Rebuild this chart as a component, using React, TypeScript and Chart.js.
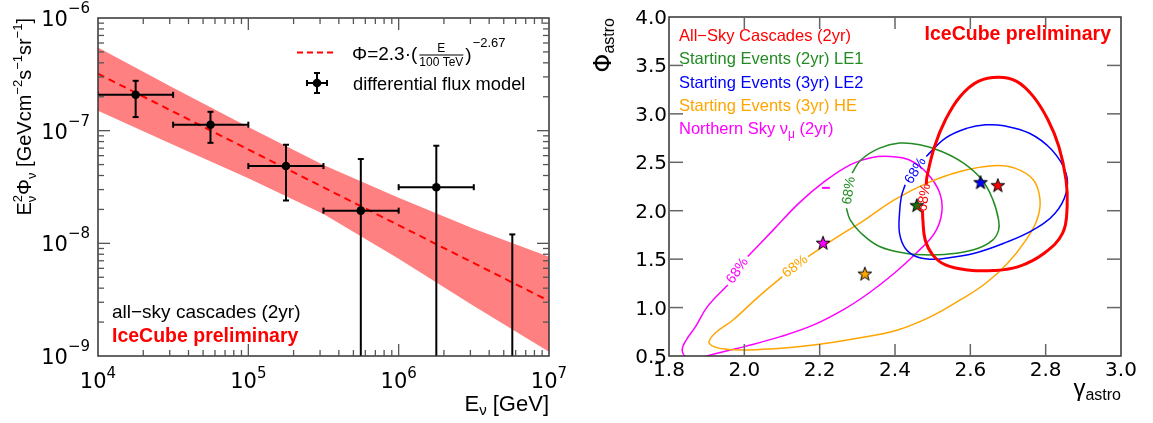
import React, { useEffect, useRef } from "react";
import { Chart, registerables } from "chart.js";

Chart.register(...registerables);

const TEXT_FONT = '"Liberation Sans", Arial, sans-serif';
const NUM_FONT = '"DejaVu Sans", sans-serif';

// ---------------- Left panel data ----------------
const binCenterE = [1.78e4, 5.6e4, 1.78e5, 5.6e5, 1.78e6];
const binFlux = [2.08e-7, 1.13e-7, 4.85e-8, 1.95e-8, 3.15e-8];
const binLowE = [1e4, 3.16e4, 1e5, 3.16e5, 1e6];
const binHighE = [3.16e4, 1e5, 3.16e5, 1e6, 3.16e6];
const fluxErrLow: (number | null)[] = [1.32e-7, 7.8e-8, 2.4e-8, null, null];
const fluxErrHigh = [2.77e-7, 1.47e-7, 7.5e-8, 5.6e-8, 7.35e-8];
const limitE = [5.7e6];
const limitFlux = [1.2e-8];

const bandE = [1e4, 3.16e4, 1e5, 3.16e5, 1e6, 3.16e6, 1e7];
const bandUpper = [5.48e-7, 2.4e-7, 1.08e-7, 4.97e-8, 2.54e-8, 1.35e-8, 7.6e-9];
const bandLower = [1.5e-7, 7.5e-8, 3.78e-8, 1.82e-8, 7.3e-9, 2.78e-9, 1.09e-9];
const fitE = [1e4, 1e7];
const fitFlux = [3.2e-7, 3.08e-9];

const xDecades = [4, 5, 6, 7];
const yDecades = [-9, -8, -7, -6];

// ---------------- Right panel data ----------------
const cascGamma = [2.473, 2.474, 2.48, 2.5, 2.534, 2.592, 2.66, 2.728, 2.796, 2.845, 2.857, 2.854, 2.835, 2.806, 2.767, 2.723, 2.675, 2.621, 2.573, 2.534, 2.505, 2.485, 2.483];
const cascPhi = [2.0, 1.906, 1.7, 1.544, 1.44, 1.389, 1.382, 1.423, 1.561, 1.768, 2.043, 2.319, 2.663, 2.939, 3.18, 3.335, 3.377, 3.335, 3.18, 2.939, 2.663, 2.353, 2.27];

const le2Gamma = [2.483, 2.534, 2.592, 2.641, 2.689, 2.757, 2.816, 2.854, 2.854, 2.825, 2.767, 2.689, 2.611, 2.534, 2.495, 2.456, 2.427, 2.412, 2.412, 2.417, 2.427];
const le2Phi = [2.56, 2.75, 2.853, 2.887, 2.877, 2.8, 2.629, 2.388, 2.181, 1.975, 1.802, 1.664, 1.561, 1.509, 1.499, 1.527, 1.613, 1.768, 1.975, 2.147, 2.267];

const le1Gamma = [2.286, 2.31, 2.359, 2.412, 2.466, 2.524, 2.582, 2.631, 2.66, 2.675, 2.675, 2.66, 2.621, 2.563, 2.495, 2.427, 2.359, 2.31, 2.281, 2.271];
const le1Phi = [2.388, 2.526, 2.646, 2.698, 2.681, 2.612, 2.491, 2.319, 2.112, 1.906, 1.8, 1.699, 1.613, 1.561, 1.544, 1.561, 1.63, 1.768, 1.906, 2.026];

const heGamma = [2.169, 2.242, 2.32, 2.398, 2.485, 2.573, 2.66, 2.718, 2.767, 2.785, 2.777, 2.748, 2.699, 2.641, 2.573, 2.495, 2.407, 2.3, 2.184, 2.048, 1.951, 1.907, 1.922, 1.97, 2.038, 2.101];
const hePhi = [1.527, 1.716, 1.906, 2.112, 2.285, 2.405, 2.464, 2.44, 2.319, 2.112, 1.906, 1.699, 1.458, 1.251, 1.079, 0.907, 0.769, 0.683, 0.614, 0.569, 0.569, 0.631, 0.734, 0.872, 1.113, 1.32];

const numuGamma = [2.009, 2.077, 2.145, 2.213, 2.281, 2.339, 2.388, 2.437, 2.485, 2.519, 2.524, 2.505, 2.456, 2.398, 2.33, 2.262, 2.184, 2.096, 2.0, 1.95, 1.9, 1.87, 1.845, 1.835, 1.845, 1.87, 1.902, 1.956];
const numuPhi = [1.527, 1.802, 2.078, 2.302, 2.474, 2.55, 2.56, 2.526, 2.388, 2.181, 1.975, 1.768, 1.561, 1.354, 1.148, 0.976, 0.821, 0.7, 0.597, 0.55, 0.5, 0.47, 0.49, 0.56, 0.66, 0.8, 1.01, 1.234];
const numuDashGamma = [2.206, 2.227];
const numuDashPhi = [2.236, 2.236];

const bestGamma = [2.209, 2.32, 2.458, 2.627, 2.673];
const bestPhi = [1.669, 1.35, 2.057, 2.294, 2.263];

const labelGamma = [2.478, 2.455, 2.278, 2.135, 1.982];
const labelPhi = [2.135, 2.413, 2.207, 1.423, 1.38];
const labelAngle = [-82, -58, -81, -38, -55];

const legendNames = [
  "All\u2212Sky Cascades (2yr)",
  "Starting Events (2yr) LE1",
  "Starting Events (3yr) LE2",
  "Starting Events (3yr) HE",
];

const xTicksR = [1.8, 2.0, 2.2, 2.4, 2.6, 2.8, 3.0];
const yTicksR = [0.5, 1.0, 1.5, 2.0, 2.5, 3.0, 3.5, 4.0];

const RED = "#ff0000";
const GREEN = "#228b22";
const BLUE = "#0000ff";
const ORANGE = "#ffa500";
const MAGENTA = "#ff00ff";

// ---------------- text helpers ----------------
type Seg = {
  t: string;
  size: number;
  dy?: number;
  bold?: boolean;
  family?: string;
  color?: string;
  under?: { t: string; size: number; dy: number };
};

function segFont(s: { size: number; bold?: boolean; family?: string }) {
  return `${s.bold ? "bold " : ""}${s.size}px ${s.family ?? TEXT_FONT}`;
}

function segWidth(ctx: CanvasRenderingContext2D, s: Seg) {
  ctx.font = segFont(s);
  let w = ctx.measureText(s.t).width;
  if (s.under) {
    ctx.font = segFont({ size: s.under.size, family: s.family });
    w = Math.max(w, ctx.measureText(s.under.t).width);
  }
  return w;
}

function drawRich(
  ctx: CanvasRenderingContext2D,
  segs: Seg[],
  x: number,
  y: number,
  align: "left" | "center" | "right",
  color: string
) {
  const widths = segs.map((s) => segWidth(ctx, s));
  const total = widths.reduce((a, b) => a + b, 0);
  let cx = align === "left" ? x : align === "center" ? x - total / 2 : x - total;
  ctx.textAlign = "left";
  ctx.textBaseline = "alphabetic";
  segs.forEach((s, i) => {
    ctx.fillStyle = s.color ?? color;
    ctx.font = segFont(s);
    ctx.fillText(s.t, cx, y + (s.dy ?? 0));
    if (s.under) {
      ctx.font = segFont({ size: s.under.size, family: s.family });
      ctx.fillText(s.under.t, cx, y + s.under.dy);
    }
    cx += widths[i];
  });
  return total;
}

function line(ctx: CanvasRenderingContext2D, x0: number, y0: number, x1: number, y1: number) {
  ctx.beginPath();
  ctx.moveTo(x0, y0);
  ctx.lineTo(x1, y1);
  ctx.stroke();
}

function errorCross(ctx: CanvasRenderingContext2D, px: number, py: number, x0: number, x1: number, yTop: number, yBot: number | null, bottomEdge: number) {
  const c = 3;
  line(ctx, x0, py, x1, py);
  line(ctx, x0, py - c, x0, py + c);
  line(ctx, x1, py - c, x1, py + c);
  const yb = yBot === null ? bottomEdge + 5 : yBot;
  line(ctx, px, yTop, px, yb);
  line(ctx, px - c, yTop, px + c, yTop);
  if (yBot !== null) line(ctx, px - c, yBot, px + c, yBot);
}

// ---------------- left plugin ----------------
const leftPlugin = {
  id: "leftDecor",
  afterDatasetsDraw(chart: any) {
    const ctx: CanvasRenderingContext2D = chart.ctx;
    const xs = chart.scales.x;
    const ys = chart.scales.y;
    const a = chart.chartArea;
    ctx.save();
    ctx.beginPath();
    ctx.rect(a.left, a.top, a.right - a.left, a.bottom - a.top);
    ctx.clip();
    ctx.strokeStyle = "#000";
    ctx.lineWidth = 2;
    for (let i = 0; i < binCenterE.length; i++) {
      const px = xs.getPixelForValue(binCenterE[i]);
      const py = ys.getPixelForValue(binFlux[i]);
      const lo = fluxErrLow[i];
      errorCross(
        ctx,
        px,
        py,
        xs.getPixelForValue(binLowE[i]),
        xs.getPixelForValue(binHighE[i]),
        ys.getPixelForValue(fluxErrHigh[i]),
        lo === null ? null : ys.getPixelForValue(lo),
        a.bottom
      );
    }
    for (let i = 0; i < limitE.length; i++) {
      const px = xs.getPixelForValue(limitE[i]);
      const py = ys.getPixelForValue(limitFlux[i]);
      line(ctx, px, py, px, a.bottom + 5);
      line(ctx, px - 3, py, px + 3, py);
    }
    ctx.restore();
  },
  afterDraw(chart: any) {
    const ctx: CanvasRenderingContext2D = chart.ctx;
    const xs = chart.scales.x;
    const ys = chart.scales.y;
    const a = chart.chartArea;
    ctx.save();
    // frame
    ctx.strokeStyle = "#333";
    ctx.lineWidth = 1.5;
    ctx.strokeRect(a.left, a.top, a.right - a.left, a.bottom - a.top);
    // ticks
    ctx.strokeStyle = "#555";
    ctx.lineWidth = 1.3;
    for (let e = xDecades[0]; e < xDecades[xDecades.length - 1]; e++) {
      for (let m = 1; m < 10; m++) {
        if (m === 1 && e === xDecades[0]) continue;
        const p = xs.getPixelForValue(m * Math.pow(10, e));
        const L = m === 1 ? 12 : 6;
        line(ctx, p, a.bottom, p, a.bottom - L);
        line(ctx, p, a.top, p, a.top + L);
      }
    }
    for (let e = yDecades[0]; e < yDecades[yDecades.length - 1]; e++) {
      for (let m = 1; m < 10; m++) {
        if (m === 1 && e === yDecades[0]) continue;
        const p = ys.getPixelForValue(m * Math.pow(10, e));
        const L = m === 1 ? 12 : 6;
        line(ctx, a.left, p, a.left + L, p);
        line(ctx, a.right, p, a.right - L, p);
      }
    }
    // tick labels
    for (const e of xDecades) {
      const p = xs.getPixelForValue(Math.pow(10, e));
      drawRich(
        ctx,
        [
          { t: "10", size: 21, family: NUM_FONT },
          { t: String(e), size: 15, dy: -10, family: NUM_FONT },
        ],
        p,
        a.bottom + 32,
        "center",
        "#000"
      );
    }
    for (const e of yDecades) {
      const p = ys.getPixelForValue(Math.pow(10, e));
      drawRich(
        ctx,
        [
          { t: "10", size: 21, family: NUM_FONT },
          { t: "\u2212" + String(-e), size: 15, dy: -13, family: NUM_FONT },
        ],
        a.left - 8,
        p + 8,
        "right",
        "#000"
      );
    }
    // x title
    drawRich(
      ctx,
      [
        { t: "E", size: 22 },
        { t: "\u03bd", size: 15, dy: 4 },
        { t: " [GeV]", size: 22 },
      ],
      a.right,
      a.bottom + 55,
      "right",
      "#000"
    );
    // y title
    ctx.save();
    ctx.translate(a.left - 67, a.top);
    ctx.rotate(-Math.PI / 2);
    drawRich(
      ctx,
      [
        { t: "E", size: 20 },
        { t: "2", size: 13, dy: -9, under: { t: "\u03bd", size: 13, dy: 5 } },
        { t: "\u03a6", size: 20 },
        { t: "\u03bd", size: 13, dy: 5 },
        { t: " [GeVcm", size: 20 },
        { t: "\u22122", size: 13, dy: -9 },
        { t: "s", size: 20 },
        { t: "\u22121", size: 13, dy: -9 },
        { t: "sr", size: 20 },
        { t: "\u22121", size: 13, dy: -9 },
        { t: "]", size: 20 },
      ],
      0,
      0,
      "right",
      "#000"
    );
    ctx.restore();

    // legend: dashed line + formula
    const ly = a.top + 34.4;
    ctx.strokeStyle = RED;
    ctx.lineWidth = 2;
    ctx.setLineDash([6, 4]);
    line(ctx, a.left + 199, ly, a.left + 237, ly);
    ctx.setLineDash([]);
    const fx = a.left + 254;
    const fb = a.top + 42;
    let cx = fx + drawRich(ctx, [{ t: "\u03a6=2.3\u00b7(", size: 19 }], fx, fb, "left", "#000");
    ctx.font = segFont({ size: 12 });
    const fw = ctx.measureText("100 TeV").width;
    cx += 2;
    const fl = fb - 5;
    ctx.strokeStyle = "#000";
    ctx.lineWidth = 1;
    line(ctx, cx, fl, cx + fw, fl);
    drawRich(ctx, [{ t: "E", size: 12 }], cx + fw / 2, fl - 3, "center", "#000");
    drawRich(ctx, [{ t: "100 TeV", size: 12 }], cx + fw / 2, fl + 11, "center", "#000");
    cx += fw + 2;
    cx += drawRich(ctx, [{ t: ")", size: 19 }], cx, fb + 1, "left", "#000");
    drawRich(ctx, [{ t: "\u22122.67", size: 13 }], cx + 1, fb - 13, "left", "#000");

    // legend: data marker
    const mx = a.left + 219;
    const my = a.top + 65;
    ctx.strokeStyle = "#000";
    ctx.lineWidth = 2;
    errorCross(ctx, mx, my, mx - 10, mx + 10, my - 10, my + 10, 0);
    ctx.fillStyle = "#000";
    ctx.beginPath();
    ctx.arc(mx, my, 4.3, 0, Math.PI * 2);
    ctx.fill();
    drawRich(ctx, [{ t: "differential flux model", size: 18.3 }], a.left + 255, a.top + 72, "left", "#000");

    // bottom-left texts
    drawRich(ctx, [{ t: "all\u2212sky cascades (2yr)", size: 19 }], a.left + 14, a.bottom - 38, "left", "#000");
    drawRich(ctx, [{ t: "IceCube preliminary", size: 19.5, bold: true }], a.left + 14, a.bottom - 14, "left", RED);
    ctx.restore();
  },
};

// ---------------- right plugin ----------------
const labelColors = [RED, BLUE, GREEN, ORANGE, MAGENTA];
const legendColors = [RED, GREEN, BLUE, ORANGE];

const rightPlugin = {
  id: "rightDecor",
  afterDatasetsDraw(chart: any) {
    const ctx: CanvasRenderingContext2D = chart.ctx;
    const xs = chart.scales.x;
    const ys = chart.scales.y;
    ctx.save();
    for (let i = 0; i < labelGamma.length; i++) {
      const px = xs.getPixelForValue(labelGamma[i]);
      const py = ys.getPixelForValue(labelPhi[i]);
      ctx.save();
      ctx.translate(px, py);
      ctx.rotate((labelAngle[i] * Math.PI) / 180);
      ctx.font = segFont({ size: 14 });
      ctx.fillStyle = labelColors[i];
      ctx.textAlign = "center";
      ctx.textBaseline = "middle";
      ctx.fillText("68%", 0, 0);
      ctx.restore();
    }
    ctx.restore();
  },
  afterDraw(chart: any) {
    const ctx: CanvasRenderingContext2D = chart.ctx;
    const xs = chart.scales.x;
    const ys = chart.scales.y;
    const a = chart.chartArea;
    ctx.save();
    ctx.strokeStyle = "#333";
    ctx.lineWidth = 1.5;
    ctx.strokeRect(a.left, a.top, a.right - a.left, a.bottom - a.top);
    ctx.strokeStyle = "#666";
    ctx.lineWidth = 1.5;
    for (let i = 1; i < xTicksR.length - 1; i++) {
      const p = xs.getPixelForValue(xTicksR[i]);
      line(ctx, p, a.bottom, p, a.bottom - 12);
      line(ctx, p, a.top, p, a.top + 12);
    }
    for (let i = 1; i < yTicksR.length - 1; i++) {
      const p = ys.getPixelForValue(yTicksR[i]);
      line(ctx, a.left, p, a.left + 14, p);
      line(ctx, a.right, p, a.right - 14, p);
    }
    for (const v of xTicksR) {
      drawRich(ctx, [{ t: v.toFixed(1), size: 20, family: NUM_FONT }], xs.getPixelForValue(v), a.bottom + 20, "center", "#000");
    }
    for (const v of yTicksR) {
      drawRich(ctx, [{ t: v.toFixed(1), size: 20, family: NUM_FONT }], a.left - 2, ys.getPixelForValue(v) + 7, "right", "#000");
    }
    // axis titles
    drawRich(
      ctx,
      [
        { t: "\u03b3", size: 24 },
        { t: "astro", size: 16, dy: 4 },
      ],
      a.right,
      a.bottom + 40,
      "right",
      "#000"
    );
    ctx.save();
    ctx.translate(a.left - 58, a.top + 1);
    ctx.rotate(-Math.PI / 2);
    drawRich(
      ctx,
      [
        { t: "\u03a6", size: 24, family: NUM_FONT },
        { t: "astro", size: 16, dy: 3 },
      ],
      0,
      0,
      "right",
      "#000"
    );
    ctx.restore();
    // legend
    legendNames.forEach((name, i) => {
      drawRich(ctx, [{ t: name, size: 16.5 }], a.left + 10, a.top + 23.7 + i * 23.4, "left", legendColors[i]);
    });
    drawRich(
      ctx,
      [
        { t: "Northern Sky \u03bd", size: 16.5 },
        { t: "\u03bc", size: 12, dy: 4 },
        { t: " (2yr)", size: 16.5 },
      ],
      a.left + 10,
      a.top + 23.7 + 4 * 23.4,
      "left",
      MAGENTA
    );
    drawRich(ctx, [{ t: "IceCube preliminary", size: 19.5, bold: true }], a.right - 10, a.top + 23, "right", RED);
    ctx.restore();
  },
};

function makeStar(color: string) {
  const c = document.createElement("canvas");
  c.width = 18;
  c.height = 18;
  const g = c.getContext("2d")!;
  const R = 7.2;
  const r = 2.9;
  g.beginPath();
  for (let k = 0; k < 10; k++) {
    const rad = k % 2 === 0 ? R : r;
    const ang = -Math.PI / 2 + (k * Math.PI) / 5;
    const x = 9 + rad * Math.cos(ang);
    const y = 9.6 + rad * Math.sin(ang);
    if (k === 0) g.moveTo(x, y);
    else g.lineTo(x, y);
  }
  g.closePath();
  g.fillStyle = color;
  g.fill();
  g.strokeStyle = "#000";
  g.lineWidth = 1;
  g.stroke();
  return c;
}

function pts(xv: number[], yv: number[]) {
  return xv.map((x, i) => ({ x, y: yv[i] }));
}

export default function App() {
  const leftRef = useRef<HTMLCanvasElement>(null);
  const rightRef = useRef<HTMLCanvasElement>(null);

  useEffect(() => {
    const left = new Chart(leftRef.current!, {
      type: "line",
      data: {
        datasets: [
          {
            data: pts(binCenterE, binFlux),
            showLine: false,
            pointRadius: 4.3,
            pointBackgroundColor: "#000",
            pointBorderColor: "#000",
            pointBorderWidth: 0,
          } as any,
          {
            data: pts(fitE, fitFlux),
            borderColor: RED,
            borderWidth: 2,
            borderDash: [7, 5],
            pointRadius: 0,
            fill: false,
          },
          {
            data: pts(bandE, bandUpper),
            borderColor: "rgba(0,0,0,0)",
            pointRadius: 0,
            fill: "+1",
            backgroundColor: "#ff8080",
          },
          {
            data: pts(bandE, bandLower),
            borderColor: "rgba(0,0,0,0)",
            pointRadius: 0,
            fill: false,
          },
        ],
      },
      options: {
        responsive: false,
        animation: false,
        devicePixelRatio: 1,
        events: [],
        layout: { padding: { left: 98, top: 18, right: 31, bottom: 67 } },
        scales: {
          x: { type: "logarithmic", min: 1e4, max: 1e7, display: false },
          y: { type: "logarithmic", min: 1e-9, max: 1e-6, display: false },
        },
        plugins: { legend: { display: false }, tooltip: { enabled: false } },
      },
      plugins: [leftPlugin],
    });

    const starColors = [MAGENTA, ORANGE, "#0a7a0a", BLUE, RED];
    const stars = starColors.map((c) => makeStar(c));
    const contour = (xv: number[], yv: number[], color: string, w: number) => ({
      data: pts(xv, yv),
      showLine: true,
      borderColor: color,
      borderWidth: w,
      pointRadius: 0,
      tension: 0.4,
      fill: false,
    });

    const right = new Chart(rightRef.current!, {
      type: "scatter",
      data: {
        datasets: [
          {
            data: pts(bestGamma, bestPhi),
            pointStyle: stars as any,
            pointRadius: 7,
            showLine: false,
          } as any,
          contour(cascGamma, cascPhi, RED, 3),
          contour(le2Gamma, le2Phi, BLUE, 1.5),
          contour(le1Gamma, le1Phi, GREEN, 1.5),
          contour(heGamma, hePhi, ORANGE, 1.5),
          contour(numuGamma, numuPhi, MAGENTA, 1.5),
          contour(numuDashGamma, numuDashPhi, MAGENTA, 2),
        ],
      },
      options: {
        responsive: false,
        animation: false,
        devicePixelRatio: 1,
        events: [],
        layout: { padding: { left: 89, top: 17, right: 32, bottom: 67 } },
        scales: {
          x: { type: "linear", min: 1.8, max: 3.0, display: false },
          y: { type: "linear", min: 0.5, max: 4.0, display: false },
        },
        plugins: { legend: { display: false }, tooltip: { enabled: false } },
      },
      plugins: [rightPlugin],
    });

    return () => {
      left.destroy();
      right.destroy();
    };
  }, []);

  return (
    <div style={{ position: "absolute", left: 0, top: 0, width: 1153, height: 423, background: "#fff" }}>
      <canvas
        ref={leftRef}
        width={580}
        height={423}
        style={{ position: "absolute", left: 0, top: 0, width: 580, height: 423 }}
      />
      <canvas
        ref={rightRef}
        width={573}
        height={423}
        style={{ position: "absolute", left: 580, top: 0, width: 573, height: 423 }}
      />
    </div>
  );
}
